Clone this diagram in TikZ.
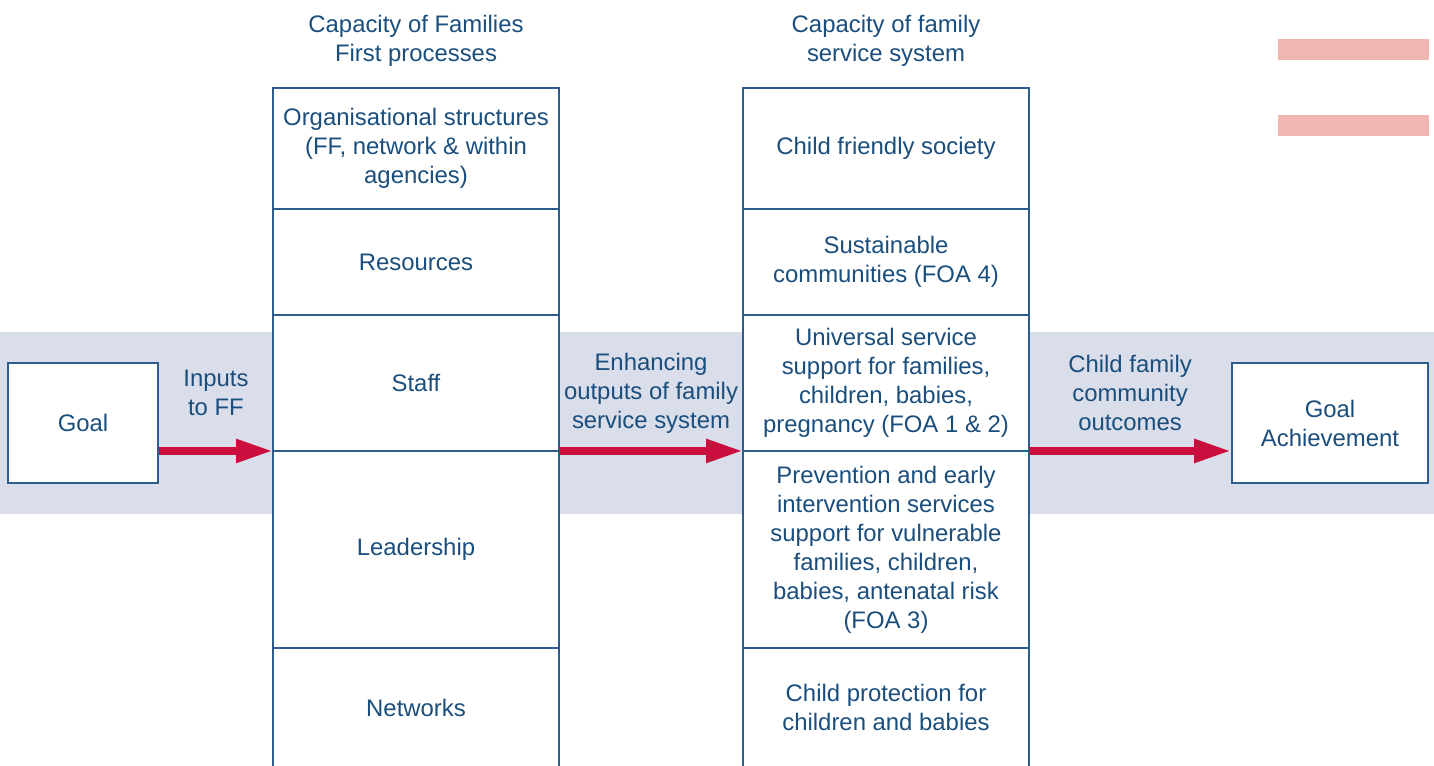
\documentclass[tikz,border=0pt]{standalone}
\usepackage{fontspec}
\setmainfont{Liberation Sans}
\usetikzlibrary {arrows.meta, positioning}

\definecolor{ink}{HTML}{1A4E7D}
\definecolor{frame}{HTML}{2C5D8C}
\definecolor{band}{HTML}{D9DEEA}
\definecolor{flowred}{HTML}{CC0E3E}
\definecolor{blush}{HTML}{F0B6B1}

\begin{document}
\begin{tikzpicture}[
    x=0.02cm,
    y=-0.02cm,
    font=\fontsize{13.6}{16.5}\selectfont,
    text=ink,
    every node/.style={align=center, text=ink},
    cell/.style={draw=frame, line width=1pt, fill=white, outer sep=0pt,
                 inner sep=0pt, minimum width=5.72cm},
    endbox/.style={draw=frame, line width=1pt, fill=white, inner sep=0pt,
                   minimum height=2.4cm},
    flow/.style={draw=flowred, line width=0.16cm,
                 -{Triangle[length=0.74cm, width=0.44cm]}},
    tag/.style={midway, yshift=1.16cm},
]
    \useasboundingbox (0,0) rectangle (1434,765);

    % grey band behind the flow
    \fill[band] (0,332) rectangle (1434,514);

    % key bars
    \fill[blush] (1278,39)  rectangle (1429,60);
    \fill[blush] (1278,115) rectangle (1429,136);

    % end points
    \node[endbox, minimum width=3cm]    (goal)    at (83,423)   {Goal};
    \node[endbox, minimum width=3.92cm] (achieve) at (1330,423) {Goal\\Achievement};

    % capacity of FF processes
    \node[cell, minimum height=2.42cm]                   (org)     at (416,148.5)
        {Organisational structures\\(FF, network \& within\\agencies)};
    \node[cell, minimum height=2.12cm, below=0pt of org]   (res)     {Resources};
    \node[cell, minimum height=2.72cm, below=0pt of res]   (staff)   {Staff};
    \node[cell, minimum height=3.94cm, below=0pt of staff] (lead)    {Leadership};
    \node[cell, minimum height=2.40cm, below=0pt of lead]  (net)     {Networks};

    % capacity of the service system
    \node[cell, minimum height=2.42cm]                   (society) at (886,148.5)
        {Child friendly society};
    \node[cell, minimum height=2.12cm, below=0pt of society] (sustain)
        {Sustainable\\communities (FOA 4)};
    \node[cell, minimum height=2.72cm, below=0pt of sustain] (univ)
        {Universal service\\support for families,\\children, babies,\\pregnancy (FOA 1 \& 2)};
    \node[cell, minimum height=3.94cm, below=0pt of univ]    (prevent)
        {Prevention and early\\intervention services\\support for vulnerable\\families, children,\\babies, antenatal risk\\(FOA 3)};
    \node[cell, minimum height=2.40cm, below=0pt of prevent] (protect)
        {Child protection for\\children and babies};

    % column headings
    \node (headff)  at (416,41) {Capacity of Families\\First processes};
    \node (headsys) at (886,41) {Capacity of family\\service system};

    % flow arrows
    \draw[flow] (goal.east |- staff.south west) -- (staff.south west)
        node[tag] {Inputs\\to FF};
    \draw[flow] (staff.south east) -- (univ.south west)
        node[tag] {Enhancing\\outputs of family\\service system};
    \draw[flow] (univ.south east) -- (univ.south east -| achieve.west)
        node[tag] {Child family\\community\\outcomes};
\end{tikzpicture}
\end{document}
